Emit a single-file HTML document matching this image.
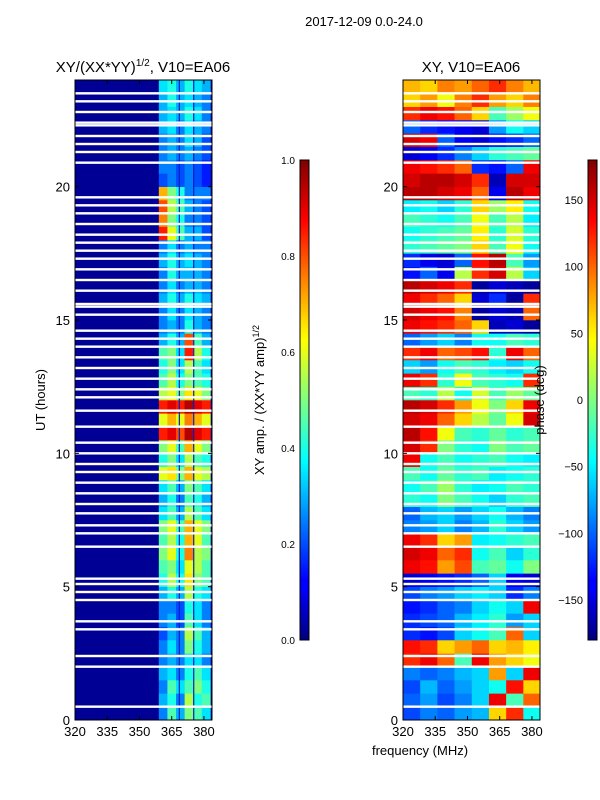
<!DOCTYPE html>
<html><head><meta charset="utf-8"><style>
html,body{margin:0;padding:0;background:#fff;}
svg{display:block;font-family:"Liberation Sans",sans-serif;}
</style></head><body>
<svg id="fig" width="600" height="800" viewBox="0 0 600 800" xmlns="http://www.w3.org/2000/svg">
<defs>
<linearGradient id="jet" x1="0" y1="1" x2="0" y2="0">
<stop offset="0" stop-color="#00007f"/><stop offset="0.11" stop-color="#0000ff"/><stop offset="0.125" stop-color="#0000ff"/>
<stop offset="0.34" stop-color="#00dcff"/><stop offset="0.375" stop-color="#00ffff"/><stop offset="0.5" stop-color="#80ff80"/>
<stop offset="0.625" stop-color="#ffff00"/><stop offset="0.66" stop-color="#ffe000"/><stop offset="0.875" stop-color="#ff0000"/><stop offset="1" stop-color="#7f0000"/>
</linearGradient>
</defs>
<text x="364" y="26" text-anchor="middle" font-size="13">2017-12-09 0.0-24.0</text>
<text x="143" y="72" text-anchor="middle" font-size="15">XY/(XX*YY)<tspan font-size="10" dy="-6">1/2</tspan><tspan dy="6">, V10=EA06</tspan></text>
<text x="471" y="72" text-anchor="middle" font-size="15">XY, V10=EA06</text>
<g id="left"></g>
<g id="right"></g>
<g id="axes"></g>
<rect x="300" y="160" width="9" height="480" fill="url(#jet)" stroke="#000" stroke-width="1"/>
<rect x="588" y="160" width="9" height="480" fill="url(#jet)" stroke="#000" stroke-width="1"/>
<text transform="translate(264,400) rotate(-90)" text-anchor="middle" font-size="13">XY amp. / (XX*YY amp)<tspan font-size="9" dy="-5">1/2</tspan></text>
<text transform="translate(544,400) rotate(-90)" text-anchor="middle" font-size="13">phase (deg)</text>
<text transform="translate(45,400) rotate(-90)" text-anchor="middle" font-size="13">UT (hours)</text>
<text x="420" y="755" text-anchor="middle" font-size="13">frequency (MHz)</text>
</svg>
<script>
const hours=[0,24];
const freqRange=[320,383.75];
const ampBackground=0.02;
const ampFreqs=[361,365,369,373,377,381];
// amplitude per 0.5h row (bottom to top) for bright band columns
const ampRows=[
[0.25,0.45,0.3,0.5,0.45,0.35],[0.3,0.4,0.25,0.55,0.4,0.45],[0.25,0.45,0.35,0.45,0.5,0.4],[0.3,0.35,0.25,0.4,0.45,0.35],
[0.25,0.3,0.25,0.35,0.35,0.25],[0.25,0.35,0.25,0.5,0.4,0.3],[0.2,0.3,0.25,0.55,0.45,0.3],[0.25,0.3,0.2,0.45,0.35,0.25],
[0.25,0.25,0.2,0.4,0.35,0.25],[0.3,0.4,0.3,0.55,0.4,0.35],[0.4,0.55,0.4,0.65,0.5,0.45],[0.45,0.5,0.35,0.6,0.55,0.45],
[0.5,0.6,0.4,0.75,0.55,0.5],[0.45,0.55,0.4,0.7,0.6,0.45],[0.5,0.6,0.45,0.7,0.6,0.5],[0.35,0.45,0.3,0.55,0.45,0.35],
[0.3,0.4,0.25,0.45,0.4,0.3],[0.35,0.45,0.3,0.5,0.45,0.35],[0.6,0.65,0.5,0.7,0.6,0.55],[0.4,0.5,0.35,0.55,0.45,0.4],
[0.5,0.6,0.45,0.7,0.6,0.5],[0.85,0.9,0.8,0.95,0.9,0.85],[0.6,0.7,0.6,0.75,0.7,0.6],[0.85,0.9,0.85,0.95,0.9,0.85],
[0.55,0.6,0.5,0.65,0.6,0.5],[0.45,0.55,0.4,0.5,0.45,0.4],[0.4,0.5,0.35,0.55,0.45,0.35],[0.45,0.5,0.35,0.85,0.55,0.4],
[0.3,0.4,0.3,0.8,0.45,0.3],[0.25,0.3,0.25,0.4,0.3,0.25],[0.25,0.35,0.25,0.35,0.3,0.25],[0.3,0.4,0.3,0.4,0.35,0.3],
[0.25,0.35,0.25,0.3,0.3,0.25],[0.25,0.4,0.3,0.3,0.3,0.25],[0.3,0.4,0.3,0.35,0.3,0.25],[0.25,0.35,0.25,0.3,0.25,0.25],
[0.85,0.6,0.45,0.3,0.3,0.2],[0.75,0.5,0.4,0.25,0.25,0.2],[0.8,0.55,0.45,0.3,0.25,0.2],[0.7,0.5,0.4,0.25,0.25,0.25],
[0.2,0.25,0.2,0.25,0.2,0.15],[0.25,0.25,0.2,0.25,0.2,0.15],[0.25,0.3,0.25,0.3,0.25,0.2],[0.25,0.3,0.25,0.35,0.3,0.2],
[0.3,0.35,0.25,0.35,0.3,0.25],[0.3,0.35,0.3,0.4,0.35,0.25],[0.3,0.4,0.3,0.35,0.3,0.25],[0.35,0.4,0.3,0.4,0.35,0.3]];
const phaseFreqs=[324,332,340,348,356,364,372,380];
const phaseRows=[
[-110,-90,-100,-80,-70,60,120,-40],[-100,-80,-110,-90,-60,140,-20,100],[-110,-70,-100,-80,-60,-40,130,60],[-90,-100,-90,-70,-60,80,-60,140],
[120,140,100,-20,140,80,60,40],[130,120,60,80,100,60,70,50],[-120,-130,-110,-60,-40,-20,100,-60],[-120,-110,-100,-70,-50,-30,-80,-60],
[-130,-120,-100,-90,-60,-40,-60,140],[-110,-90,-80,-60,-50,-60,-120,-90],[-150,-140,-130,-120,-100,-60,-140,-150],[140,130,80,110,-20,-10,-40,0],
[150,140,100,120,-40,-20,-60,-30],[140,120,60,80,-50,-40,-30,-20],[-90,-80,-60,-90,-70,-30,-60,-80],[-100,-70,-60,-80,-60,-40,-70,-90],
[-30,-40,0,-20,-40,-60,-30,-20],[-40,-20,10,-30,-50,-40,-20,-30],[-20,-40,-10,-30,-20,-50,-40,-30],[140,-40,-20,-40,-30,-20,-40,-50],
[150,120,0,-30,-40,0,-20,-10],[160,130,40,-20,-30,-10,-30,-20],[150,140,100,60,20,-10,40,150],[160,150,120,80,40,0,60,140],
[-20,-30,20,-40,30,-20,10,-10],[140,120,-30,40,-20,-30,-40,120],[-60,-80,-40,-20,-30,-50,-60,-40],[120,140,100,110,130,-30,140,100],
[-100,-80,-60,-90,-40,-40,-20,-30],[140,130,120,100,60,-160,-150,-170],[150,140,130,90,-170,-150,-160,100],[140,120,100,60,-150,-120,-170,120],
[160,150,140,120,-170,-150,-160,-170],[-130,-100,-140,20,120,150,20,-60],[-120,-140,-150,-100,130,160,-20,-80],[-30,-20,-10,0,60,-20,40,-40],
[-40,-30,-20,-10,50,-30,30,-30],[-20,-30,-40,-20,40,-20,20,-50],[-50,-40,-60,-30,60,10,50,-40],[160,160,150,140,100,-140,160,140],
[150,160,160,150,120,-160,150,150],[140,130,120,100,-120,-130,-100,140],[-150,-140,-120,-90,-60,-30,-20,-10],[150,140,-100,-140,-150,-130,-120,-100],
[-100,-120,-130,-140,-150,-80,-40,-60],[120,140,130,100,60,-20,10,40],[60,80,40,90,120,80,60,90],[70,60,90,80,100,120,90,70]];
const gapHours=[0.5,2.0,2.4,3.4,3.7,4.5,4.8,5.1,5.3,6.5,7.0,7.3,7.75,8.1,8.5,8.9,9.3,9.6,10.0,10.4,11.0,11.6,12.1,12.4,12.8,13.2,13.6,14.0,14.3,14.6,15.2,15.5,15.6,16.1,16.5,16.9,17.3,17.6,17.9,18.2,18.6,19.0,19.3,19.6,20.9,21.3,21.6,21.9,22.3,22.4,22.8,23.2,23.5];
const yTicks=[0,5,10,15,20];
const xTicks=[320,335,350,365,380];
const ampTicks=[0,0.2,0.4,0.6,0.8,1.0];
const phaseTicks=[-150,-100,-50,0,50,100,150];

const NS='http://www.w3.org/2000/svg';
function jet(v){v=Math.max(0,Math.min(1,v));
 const r=Math.min(4*v-1.5,-4*v+4.5),g=Math.min(4*v-0.5,-4*v+3.5),b=Math.min(4*v+0.5,-4*v+2.5);
 const c=x=>Math.round(255*Math.max(0,Math.min(1,x)));return `rgb(${c(r)},${c(g)},${c(b)})`;}
function mk(tag,attrs,parent){const e=document.createElementNS(NS,tag);for(const k in attrs)e.setAttribute(k,attrs[k]);parent.appendChild(e);return e;}
const panels=[{x0:75,x1:212,g:'left'},{x0:403,x1:540,g:'right'}];
const Y0=720,Y1=80;
const yScale=h=>Y0+(h-hours[0])/(hours[1]-hours[0])*(Y1-Y0);
function xScale(p,f){return p.x0+(f-freqRange[0])/(freqRange[1]-freqRange[0])*(p.x1-p.x0);}
const rowH=(hours[1]-hours[0])/ampRows.length;
{const p=panels[0],g=document.getElementById('left');
 const bg=mk('rect',{x:p.x0,y:Y1,width:p.x1-p.x0,height:Y0-Y1,fill:jet(ampBackground)},g);
 
 
 ampRows.forEach((row,i)=>{row.forEach((v,j)=>{
  const fa=ampFreqs[j]-2,fb=ampFreqs[j]+2;
  const r=mk('rect',{x:xScale(p,fa),y:yScale((i+1)*rowH),width:xScale(p,fb)-xScale(p,fa)+0.3,height:yScale(i*rowH)-yScale((i+1)*rowH)+0.3,fill:jet(v)},g);
  
  
 });});
 [368.5,375.2].forEach(f=>{mk('rect',{x:xScale(p,f)-0.5,y:Y1,width:1.2,height:Y0-Y1,fill:'#0020c0'},g);});
}
{const p=panels[1],g=document.getElementById('right');
 const pr=(hours[1]-hours[0])/phaseRows.length;
 phaseRows.forEach((row,i)=>{row.forEach((v,j)=>{
  const fa=phaseFreqs[j]-4,fb=phaseFreqs[j]+4;
  const r=mk('rect',{x:xScale(p,Math.max(fa,freqRange[0])),y:yScale((i+1)*pr),width:xScale(p,Math.min(fb,freqRange[1]))-xScale(p,Math.max(fa,freqRange[0]))+0.3,height:yScale(i*pr)-yScale((i+1)*pr)+0.3,fill:jet((v+180)/360)},g);
  
  
 });});
}
panels.forEach(p=>{const g=document.getElementById(p.g);
 gapHours.forEach(h=>{const r=mk('rect',{x:p.x0,y:yScale(h)-1.2,width:p.x1-p.x0,height:2.4,fill:'#fff'},g);
  
  });
});
const ax=document.getElementById('axes');
panels.forEach(p=>{
 const fr=mk('rect',{x:p.x0,y:Y1,width:p.x1-p.x0,height:Y0-Y1,fill:'none',stroke:'#000','stroke-width':1},ax);
 
 
 yTicks.forEach(t=>{const y=yScale(t);
  mk('line',{x1:p.x0,x2:p.x0+4,y1:y,y2:y,stroke:'#000'},ax);mk('line',{x1:p.x1,x2:p.x1-4,y1:y,y2:y,stroke:'#000'},ax);
  const tx=mk('text',{x:p.x0-5,y:y+5,'text-anchor':'end','font-size':13},ax);tx.textContent=t;
  
  });
 xTicks.forEach(t=>{const x=xScale(p,t);
  mk('line',{x1:x,x2:x,y1:Y0,y2:Y0-4,stroke:'#000'},ax);mk('line',{x1:x,x2:x,y1:Y1,y2:Y1+4,stroke:'#000'},ax);
  const tx=mk('text',{x:x,y:Y0+16,'text-anchor':'middle','font-size':13},ax);tx.textContent=t;
  
  });
});
ampTicks.forEach(t=>{const y=640-t*480;
 mk('line',{x1:300,x2:304,y1:y,y2:y,stroke:'#000'},ax);
 const tx=mk('text',{x:295,y:y+4,'text-anchor':'end','font-size':10},ax);tx.textContent=t.toFixed(1);
 
 });
phaseTicks.forEach(t=>{const y=640-(t+180)/360*480;
 mk('line',{x1:588,x2:592,y1:y,y2:y,stroke:'#000'},ax);
 const tx=mk('text',{x:583,y:y+4,'text-anchor':'end','font-size':11},ax);tx.textContent=t<0?'\u2212'+(-t):t;
 
 });
</script>
</body></html>
